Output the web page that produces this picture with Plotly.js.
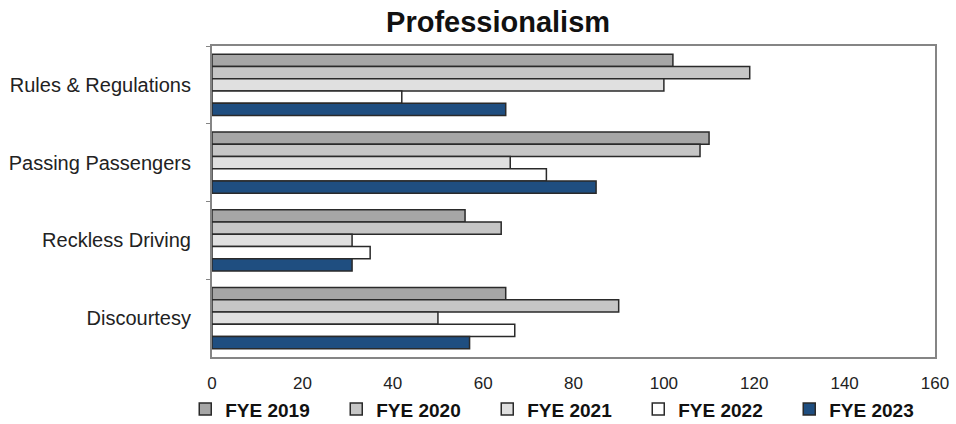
<!DOCTYPE html>
<html><head><meta charset="utf-8">
<script src="https://cdn.plot.ly/plotly-3.0.1.min.js"></script>
<style>body{margin:0;background:#fff}#c{width:956px;height:424px}</style>
</head><body><div id="c"></div>
<script>
const categories = ["Rules & Regulations", "Passing Passengers", "Reckless Driving", "Discourtesy"];
const seriesNames = ["FYE 2019", "FYE 2020", "FYE 2021", "FYE 2022", "FYE 2023"];
const fye2019 = [102, 110, 56, 65];
const fye2020 = [119, 108, 64, 90];
const fye2021 = [100, 66, 31, 50];
const fye2022 = [42, 74, 35, 67];
const fye2023 = [65, 85, 31, 57];
const xTicks = [0, 20, 40, 60, 80, 100, 120, 140, 160];

const values = [fye2019, fye2020, fye2021, fye2022, fye2023];
const colors = ["#a6a6a6", "#c6c6c6", "#e0e0e0", "#ffffff", "#1f4e80"];
const traces = values.map((v, i) => ({
  type: "bar", orientation: "h", name: seriesNames[i],
  x: v, y: categories,
  marker: {color: colors[i], line: {color: "#2a2a2a", width: 1.5}}
}));
const sans = "Liberation Sans, Arial, sans-serif";
const layout = {
  width: 956, height: 424,
  margin: {l: 212, r: 21, t: 46, b: 67, autoexpand: false},
  paper_bgcolor: "#fff", plot_bgcolor: "#fff",
  barmode: "group", bargap: 0.21, bargroupgap: 0,
  title: {text: "<b>Professionalism</b>", x: 0.521, xanchor: "center", y: 0.948, yanchor: "middle",
          font: {family: sans, size: 29, color: "#111"}},
  xaxis: {range: [0, 160], tickvals: xTicks, showgrid: false, zeroline: false,
          showline: true, mirror: true, linecolor: "#858585", linewidth: 2,
          ticks: "", ticklabelstandoff: 10,
          tickfont: {family: sans, size: 17, color: "#222"}},
  yaxis: {autorange: "reversed", showgrid: false, zeroline: false,
          showline: true, mirror: true, linecolor: "#858585", linewidth: 2,
          ticks: "outside", tickson: "boundaries", ticklen: 4, tickcolor: "#858585",
          ticklabelstandoff: 15,
          tickfont: {family: sans, size: 20, color: "#222"}},
  legend: {orientation: "h", x: -0.037, xanchor: "left", y: -0.168, yanchor: "middle",
           bgcolor: "rgba(0,0,0,0)",
           entrywidth: 106, traceorder: "normal",
           font: {family: sans, size: 19, color: "#111", weight: "bold"}}
};
Plotly.newPlot("c", traces, layout, {displayModeBar: false, staticPlot: true});
</script></body></html>
